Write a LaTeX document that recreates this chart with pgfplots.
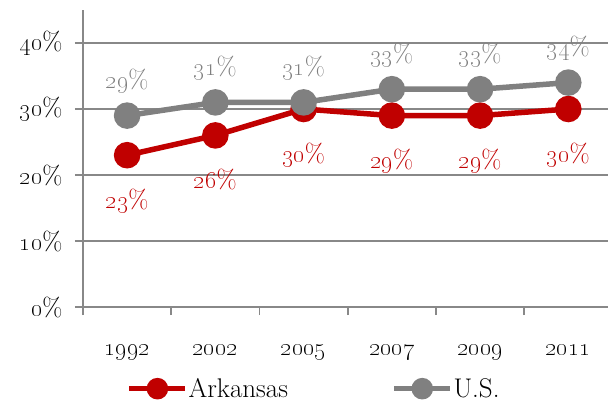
\documentclass[border=0pt]{standalone}
\usepackage{pgfplots}
\pgfplotsset{compat=1.18}
\usetikzlibrary{calc}
\definecolor{arred}{RGB}{192,0,0}
\definecolor{usgray}{RGB}{128,128,128}
\definecolor{gridgray}{RGB}{136,136,136}

\begin{document}
\begin{tikzpicture}
  \begin{axis}[
      scale only axis,
      width=525pt, height=297pt,
      xmin=-0.5, xmax=5.45,
      ymin=0, ymax=45,
      clip=false,
      axis x line*=bottom,
      axis y line*=left,
      axis line style={gridgray, line width=1.8pt},
      ytick={0,10,20,30,40},
      ymajorgrids=true,
      grid style={gridgray, line width=1.8pt},
      xtick={0,1,2,3,4,5},
      xticklabels={\oldstylenums{1992},\oldstylenums{2002},\oldstylenums{2005},
                   \oldstylenums{2007},\oldstylenums{2009},\oldstylenums{2011}},
      minor xtick={-0.5,0.5,1.5,2.5,3.5,4.5},
      tick align=outside,
      major tick length=8pt,
      minor tick length=8pt,
      every major x tick/.append style={draw=none},
      every tick/.append style={gridgray, line width=1.8pt},
      yticklabel={\oldstylenums{\pgfmathprintnumber[assume math mode=true]{\tick}}\%},
      tick label style={font=\fontsize{26}{30}\selectfont, black},
      yticklabel style={xshift=-9pt},
      xticklabel style={anchor=base, yshift=-40pt},
      nodes near coords={\oldstylenums{\pgfmathprintnumber[assume math mode=true]{\pgfplotspointmeta}}\%},
      legend columns=2,
      legend style={at={(axis description cs:0.0838,-0.275)}, anchor=west,
                    draw=none, inner sep=0pt,
                    font=\fontsize{27}{30}\selectfont,
                    nodes={inner sep=1pt},
                    /tikz/every even column/.append style={column sep=103pt}},
      legend image code/.code={
        \draw[#1, line width=4.5pt, mark size=8.5pt, mark repeat=2, mark phase=2]
          plot coordinates {(0pt,0pt) (28pt,0pt) (56pt,0pt)};
      },
    ]
    \addplot[arred, line width=5.5pt, mark=*, mark size=10.5pt,
      mark options={draw=none, fill=arred},
      nodes near coords style={arred, anchor=base, yshift=-53pt,
        font=\fontsize{26}{30}\selectfont}]
      coordinates {(0,23)(1,26)(2,30)(3,29)(4,29)(5,30)};
    \addlegendentry{Arkansas}
    \addplot[usgray, line width=5.5pt, mark=*, mark size=10.5pt,
      mark options={draw=none, fill=usgray},
      nodes near coords style={usgray, anchor=base, yshift=27pt,
        font=\fontsize{26}{30}\selectfont}]
      coordinates {(0,29)(1,31)(2,31)(3,33)(4,33)(5,34)};
    \addlegendentry{U.S.}
    \coordinate (bl) at (rel axis cs:0,0);
    \coordinate (tr) at (rel axis cs:1,1);
  \end{axis}
  \pgfresetboundingbox
  \path[use as bounding box] ($(bl)+(-83pt,-97pt)$) rectangle ($(tr)+(0pt,10pt)$);
\end{tikzpicture}
\end{document}
